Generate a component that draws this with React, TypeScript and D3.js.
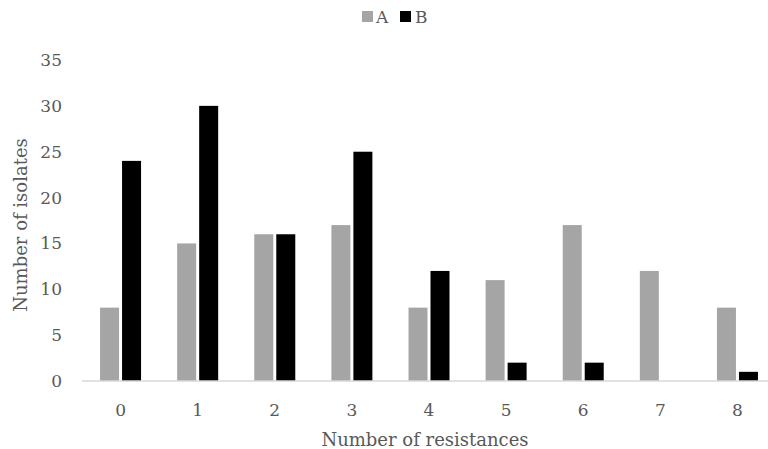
import * as d3 from "d3";

const categories = ["0", "1", "2", "3", "4", "5", "6", "7", "8"];
const seriesA = [8, 15, 16, 17, 8, 11, 17, 12, 8];
const seriesB = [24, 30, 16, 25, 12, 2, 2, 0, 1];
const yTicks = [0, 5, 10, 15, 20, 25, 30, 35];

const W = 768;
const H = 449;
const FONT = "'DejaVu Serif', serif";
const TEXT = "#595959";
const COLORS = { A: "#a5a5a5", B: "#000000" };

export default function App() {
  const x = d3.scaleBand<string>().domain(categories).range([82, 776]);
  const y = d3.scaleLinear().domain([0, 35]).range([381, 60]);
  const barW = 19;
  const gap = 3;

  return (
    <svg width={W} height={H} style={{ position: "absolute", left: 0, top: 0 }} fontFamily={FONT}>
      <rect width={W} height={H} fill="#fff" />
      {/* legend */}
      <g fontSize={17} fill={TEXT}>
        <rect x={362} y={11} width={11} height={11} fill={COLORS.A} />
        <text x={376} y={23}>A</text>
        <rect x={400} y={11} width={11} height={11} fill={COLORS.B} />
        <text x={415} y={23}>B</text>
      </g>
      {/* y axis labels */}
      <g fontSize={17} fill={TEXT} textAnchor="end">
        {yTicks.map((t) => (
          <text key={t} x={62} y={y(t)} dy="0.35em">
            {t}
          </text>
        ))}
      </g>
      {/* bars */}
      {categories.map((c, i) => {
        const cx = x(c)! + x.bandwidth() / 2;
        return (
          <g key={c}>
            <rect x={cx - gap / 2 - barW} y={y(seriesA[i])} width={barW} height={y(0) - y(seriesA[i])} fill={COLORS.A} />
            <rect x={cx + gap / 2} y={y(seriesB[i])} width={barW} height={y(0) - y(seriesB[i])} fill={COLORS.B} />
          </g>
        );
      })}
      <line x1={82} x2={768} y1={y(0)} y2={y(0)} stroke="#d9d9d9" strokeWidth={1.5} />
      {/* x axis labels */}
      <g fontSize={17} fill={TEXT} textAnchor="middle">
        {categories.map((c) => (
          <text key={c} x={x(c)! + x.bandwidth() / 2} y={416}>
            {c}
          </text>
        ))}
      </g>
      <text x={425} y={446} fontSize={18} fill={TEXT} textAnchor="middle">
        Number of resistances
      </text>
      <text transform="translate(27,225) rotate(-90)" fontSize={18} fill={TEXT} textAnchor="middle">
        Number of isolates
      </text>
    </svg>
  );
}
